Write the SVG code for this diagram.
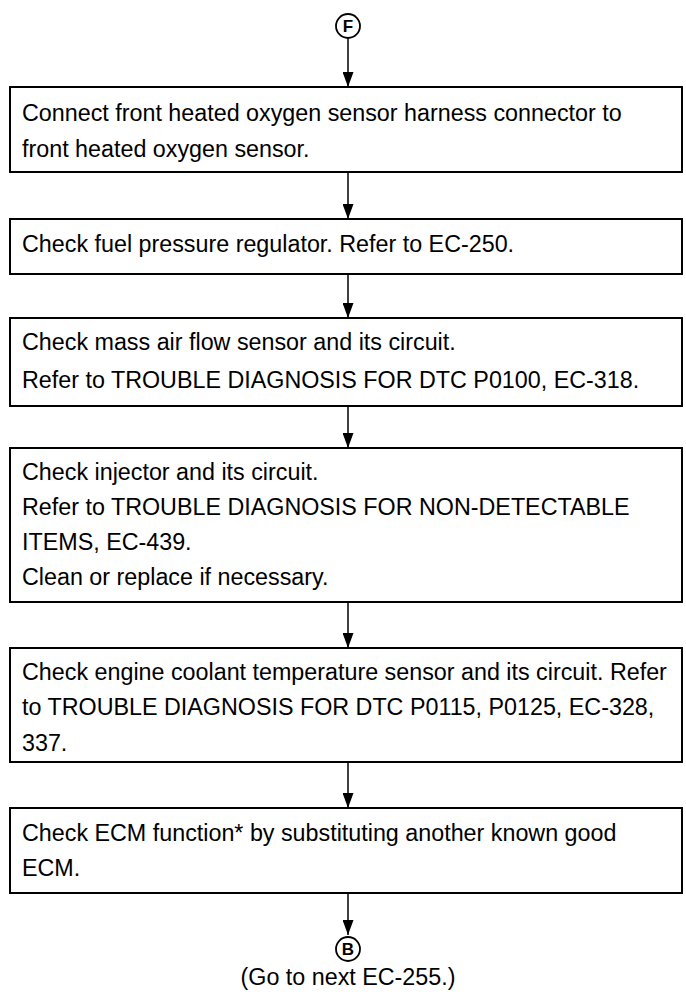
<svg xmlns="http://www.w3.org/2000/svg" width="686" height="1004" viewBox="0 0 686 1004">
<style>
.box{fill:#fff;stroke:#000;stroke-width:2}
.t{font-family:"Liberation Sans",Arial,sans-serif;font-size:23.3px;fill:#000}
.c{fill:#fff;stroke:#000;stroke-width:1.8}
.cl{font-family:"Liberation Sans",Arial,sans-serif;font-size:17px;font-weight:bold;fill:#000;text-anchor:middle}
.ln{stroke:#000;stroke-width:1.5;fill:none}
</style>
<defs>
<marker id="ah" markerWidth="15" markerHeight="11" refX="15" refY="5.5" orient="auto" markerUnits="userSpaceOnUse" viewBox="0 0 15 11">
<path d="M0,0 L15,5.5 L0,11 Z" fill="#000"/>
</marker>
</defs>
<rect width="686" height="1004" fill="#fff"/>
<g id="connectors">
<line class="ln" x1="348" y1="39" x2="348" y2="87" marker-end="url(#ah)"/>
<line class="ln" x1="348" y1="172" x2="348" y2="219" marker-end="url(#ah)"/>
<line class="ln" x1="348" y1="274" x2="348" y2="318" marker-end="url(#ah)"/>
<line class="ln" x1="348" y1="406" x2="348" y2="448" marker-end="url(#ah)"/>
<line class="ln" x1="348" y1="602" x2="348" y2="648" marker-end="url(#ah)"/>
<line class="ln" x1="348" y1="762" x2="348" y2="808" marker-end="url(#ah)"/>
<line class="ln" x1="348" y1="893" x2="348" y2="935" marker-end="url(#ah)"/>
</g>
<g id="startF">
<circle class="c" cx="348" cy="26" r="12"/>
<text class="cl" x="348" y="32">F</text>
</g>
<g id="box1">
<rect class="box" x="10" y="87" width="672" height="85"/>
<text class="t" x="22" y="121">Connect front heated oxygen sensor harness connector to</text>
<text class="t" x="22" y="157">front heated oxygen sensor.</text>
</g>
<g id="box2">
<rect class="box" x="10" y="219" width="672" height="55"/>
<text class="t" x="22" y="252">Check fuel pressure regulator. Refer to EC-250.</text>
</g>
<g id="box3">
<rect class="box" x="10" y="318" width="672" height="88"/>
<text class="t" x="22" y="350">Check mass air flow sensor and its circuit.</text>
<text class="t" x="22" y="388">Refer to TROUBLE DIAGNOSIS FOR DTC P0100, EC-318.</text>
</g>
<g id="box4">
<rect class="box" x="10" y="448" width="672" height="154"/>
<text class="t" x="22" y="480">Check injector and its circuit.</text>
<text class="t" x="22" y="515">Refer to TROUBLE DIAGNOSIS FOR NON-DETECTABLE</text>
<text class="t" x="22" y="550">ITEMS, EC-439.</text>
<text class="t" x="22" y="585">Clean or replace if necessary.</text>
</g>
<g id="box5">
<rect class="box" x="10" y="648" width="672" height="114"/>
<text class="t" x="22" y="680">Check engine coolant temperature sensor and its circuit. Refer</text>
<text class="t" x="22" y="715">to TROUBLE DIAGNOSIS FOR DTC P0115, P0125, EC-328,</text>
<text class="t" x="22" y="751">337.</text>
</g>
<g id="box6">
<rect class="box" x="10" y="808" width="672" height="85"/>
<text class="t" x="22" y="841">Check ECM function* by substituting another known good</text>
<text class="t" x="22" y="876">ECM.</text>
</g>
<g id="endB">
<circle class="c" cx="348" cy="949" r="12"/>
<text class="cl" x="348" y="955">B</text>
<text class="t" x="348" y="985" text-anchor="middle">(Go to next EC-255.)</text>
</g>
</svg>
